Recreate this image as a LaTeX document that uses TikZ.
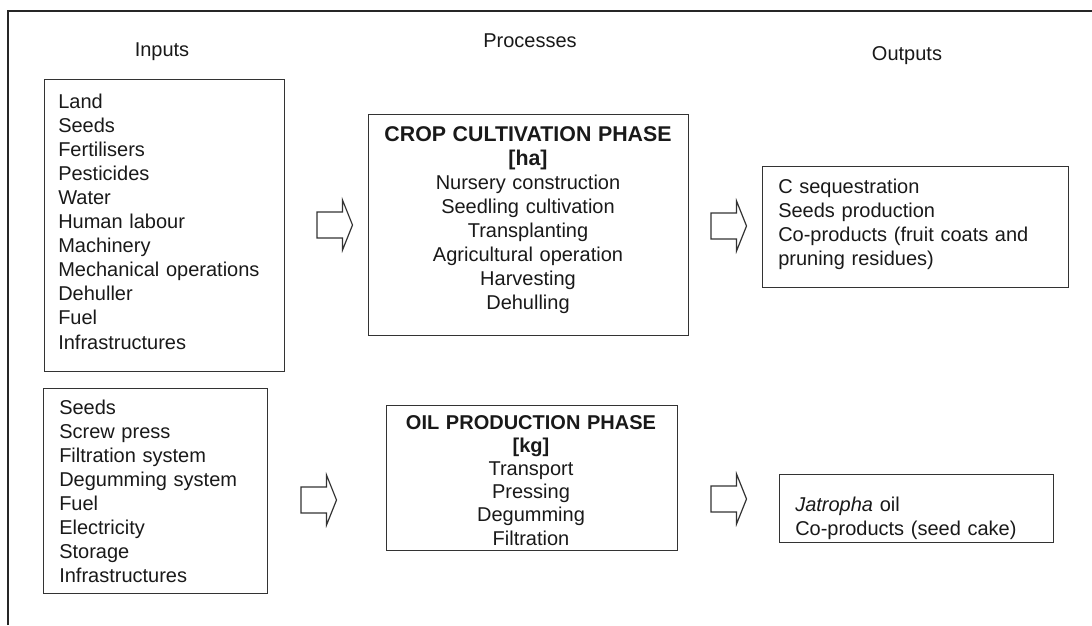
\documentclass[tikz,border=0pt]{standalone}
\usepackage{fontspec}
\setmainfont{Liberation Sans}
\newcommand{\bodyfont}{\fontsize{15}{18.08}\selectfont}
\newcommand{\oilfont}{\fontsize{15}{17.4}\selectfont}
\newcommand{\titlefont}[1]{{\fontsize{16}{18.08}\selectfont\bfseries #1}}
\begin{document}
\begin{tikzpicture}[x=0.75pt,y=-0.75pt,
  frame/.style={draw=black!85, line width=0.9pt},
  box/.style={draw=black!80, line width=0.9pt, inner sep=0pt, anchor=north west},
  txt/.style={inner sep=0pt, font=\bodyfont, text=black!90},
  ltxt/.style={txt, align=left, anchor=base west},
  ctxt/.style={txt, align=center, anchor=base},
  arr/.style={draw=black!80, line width=0.9pt, fill=white, line join=miter},
  blockarrow/.pic={\draw[arr] (0,-13) -- (25.5,-13) -- (25.5,-25) -- (35.5,0) -- (25.5,25) -- (25.5,13) -- (0,13) -- cycle;}
]
\useasboundingbox (0,0) rectangle (1092,625);
\draw[frame] (8,625) -- (8,11) -- (1092,11);

% headers
\node[ctxt] (hin) at (162,56) {Inputs};
\node[ctxt] (hproc) at (530,47) {Processes};
\node[ctxt] (hout) at (907,60) {Outputs};

% boxes
\node[box, minimum width=180pt, minimum height=219pt] (in1) at (44,79) {};
\node[box, minimum width=168pt, minimum height=153.75pt] (in2) at (43,388) {};
\node[box, minimum width=240pt, minimum height=165.75pt] (crop) at (368,114) {};
\node[box, minimum width=218.25pt, minimum height=108.75pt] (oil) at (386,405) {};
\node[box, minimum width=229.5pt, minimum height=90.75pt] (out1) at (762,166) {};
\node[box, minimum width=205.5pt, minimum height=51pt] (out2) at (779,474) {};

% texts
\node[ltxt, text width=170pt] (in1t) at (58,108) {Land\\Seeds\\Fertilisers\\Pesticides\\Water\\Human labour\\Machinery\\Mechanical operations\\Dehuller\\Fuel\\Infrastructures};
\node[ltxt, text width=160pt] (in2t) at (59,414) {Seeds\\Screw press\\Filtration system\\Degumming system\\Fuel\\Electricity\\Storage\\Infrastructures};
\node[ctxt, text width=235pt] (cropt) at (528,141) {\titlefont{CROP CULTIVATION PHASE}\\\titlefont{[ha]}\\Nursery construction\\Seedling cultivation\\Transplanting\\Agricultural operation\\Harvesting\\Dehulling};
\node[ctxt, text width=215pt, font=\oilfont] (oilt) at (531,429) {\textbf{OIL PRODUCTION PHASE}\\\textbf{[kg]}\\Transport\\Pressing\\Degumming\\Filtration};
\node[ltxt, text width=215pt] (out1t) at (778,193) {C sequestration\\Seeds production\\Co-products (fruit coats and\\pruning residues)};
\node[ltxt, text width=195pt] (out2t) at (795,511) {\textit{Jatropha} oil\\Co-products (seed cake)};

% block arrows
\pic (a1) at (317,225) {blockarrow};
\pic (a2) at (711,226) {blockarrow};
\pic (a3) at (301,500) {blockarrow};
\pic (a4) at (711,499) {blockarrow};
\end{tikzpicture}
\end{document}
